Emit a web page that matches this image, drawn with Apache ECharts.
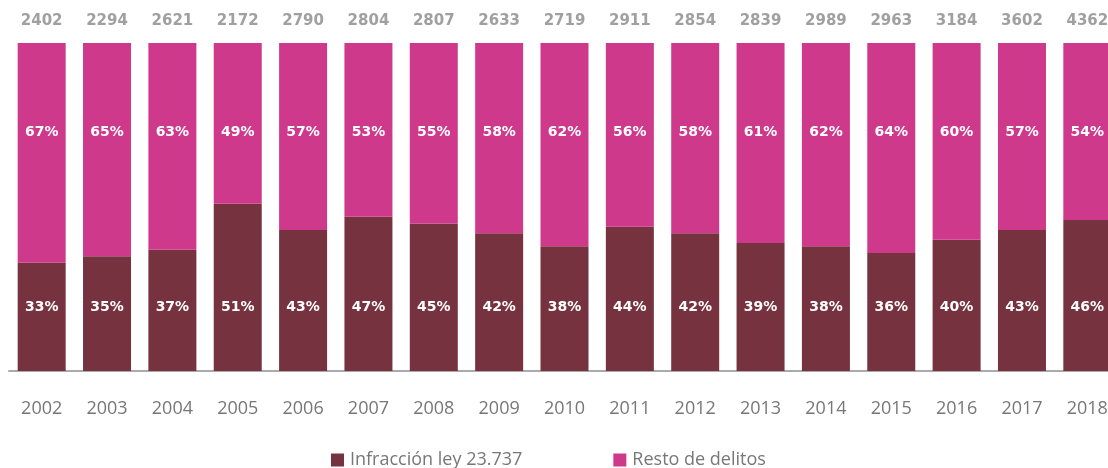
<!DOCTYPE html>
<html><head><meta charset="utf-8">
<script src="https://cdn.jsdelivr.net/npm/echarts@6/dist/echarts.min.js"></script>
<style>html,body{margin:0;padding:0;background:#fff}#c{width:1108px;height:468px}</style>
</head><body><div id="c"></div>
<script>
const years = ['2002','2003','2004','2005','2006','2007','2008','2009','2010','2011','2012','2013','2014','2015','2016','2017','2018'];
const totals = [2402,2294,2621,2172,2790,2804,2807,2633,2719,2911,2854,2839,2989,2963,3184,3602,4362];
const infraccion = [33,35,37,51,43,47,45,42,38,44,42,39,38,36,40,43,46];
const resto = [67,65,63,49,57,53,55,58,62,56,58,61,62,64,60,57,54];

const lightFont = '"Open Sans", sans-serif';
const boldFont = '"DejaVu Sans", sans-serif';
const chart = echarts.init(document.getElementById('c'));
chart.setOption({
  animation: false,
  grid: {left: 9, top: 43, right: -12, height: 328, containLabel: false, outerBoundsMode: 'none'},
  legend: {
    left: 326, top: 446, itemWidth: 13, itemHeight: 13, itemGap: 91, icon: 'rect',
    textStyle: {color: '#777', fontSize: 18, fontFamily: lightFont, padding: [0,0,0,1]},
    data: ['Infracción ley 23.737', 'Resto de delitos']
  },
  xAxis: [{
    type: 'category', data: years, position: 'bottom',
    axisLine: {lineStyle: {color: '#aaa', width: 2}},
    axisTick: {inside: true, length: 8, lineStyle: {color: '#aaa'}},
    axisLabel: {color: '#777', fontSize: 18, fontFamily: lightFont, margin: 29}
  }, {
    type: 'category', data: totals, position: 'top',
    axisLine: {show: false}, axisTick: {show: false},
    axisLabel: {color: '#a0a0a0', fontSize: 15, fontWeight: 'bold', fontFamily: boldFont, margin: 14}
  }],
  yAxis: {type: 'value', min: 0, max: 100, show: false, splitLine: {show: false}},
  series: [{
    name: 'Infracción ley 23.737', type: 'bar', stack: 'a', barWidth: 48, z: 3,
    data: infraccion, itemStyle: {color: '#76333F'},
    label: {show: true, position: 'insideBottom', distance: 57, color: '#fff', fontSize: 14, fontWeight: 'bold', fontFamily: boldFont, formatter: '{c}%'}
  }, {
    name: 'Resto de delitos', type: 'bar', stack: 'a', barWidth: 48, z: 3,
    data: resto, itemStyle: {color: '#CF398B'},
    label: {show: true, position: 'insideTop', distance: 82, color: '#fff', fontSize: 14, fontWeight: 'bold', fontFamily: boldFont, formatter: '{c}%'}
  }]
});
</script></body></html>
